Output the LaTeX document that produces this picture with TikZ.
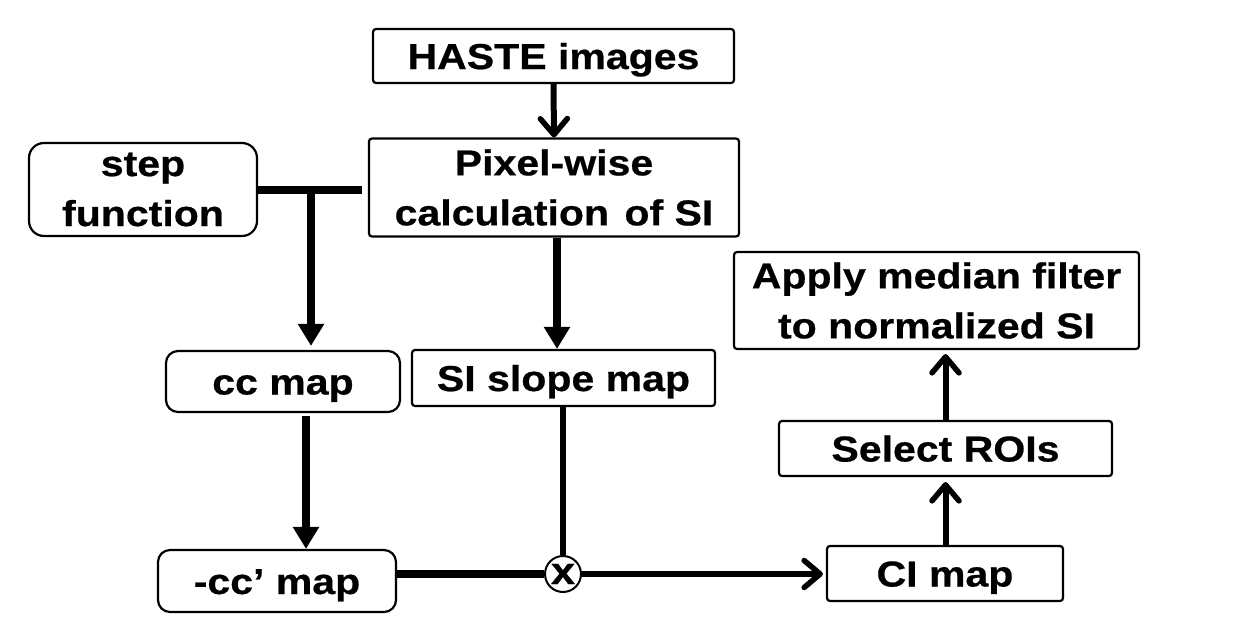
\documentclass[tikz,border=0pt]{standalone}
\usepackage{fontspec}
\setmainfont{Liberation Sans}[FakeStretch=1.14,BoldFeatures={FakeBold=0.6}]
\usetikzlibrary{arrows.meta}
\begin{document}
\begin{tikzpicture}[x=1pt,y=-1pt,
  box/.style={draw, line width=2.2pt, inner sep=0pt, align=center,
    font=\fontsize{36}{50}\selectfont\bfseries, rounded corners=3pt},
  oneline/.style={text height=26pt, text depth=0pt},
  bigline/.style={line width=8pt},
  midline/.style={line width=6pt},
  filltip/.style={-{Triangle[length=22pt,width=25pt]}},
  barbtip/.style={-{Straight Barb[round,length=16pt,width=27pt,line width=5.5pt]}}]
\fill[white] (0,0) rectangle (1240,643);
\useasboundingbox (0,0) rectangle (1240,643);

\node[box, oneline, minimum width=361pt, minimum height=54pt] (haste) at (553.5,56) {HASTE images};
\node[box, minimum width=370pt, minimum height=98pt] (pixel) at (554,187.5) {Pixel-wise\\calculation\hspace{4pt} of SI};
\node[box, rounded corners=15pt, minimum width=228pt, minimum height=93pt] (step) at (143,189.5) {step\\function};
\node[box, oneline, rounded corners=12pt, minimum width=234pt, minimum height=61pt] (cc) at (283,381.5) {cc map};
\node[box, oneline, minimum width=303pt, minimum height=56pt] (slope) at (563.5,378) {SI slope map};
\node[box, minimum width=405pt, minimum height=97pt] (apply) at (936.5,300.5) {Apply median filter\\to normalized SI};
\node[box, oneline, minimum width=333pt, minimum height=55pt] (roi) at (945.5,448.5) {Select ROIs};
\node[box, oneline, minimum width=236pt, minimum height=55pt] (ci) at (945,573.5) {CI map};
\node[box, oneline, rounded corners=12pt, minimum width=238pt, minimum height=62pt] (mcc) at (277,581) {-cc’ map};
\node[circle, draw, line width=2pt, minimum size=36pt, inner sep=0pt,
  font=\fontsize{38}{40}\selectfont\bfseries] (mult) at (563,574) {x};

\coordinate (j) at (311,190);
\coordinate (a2) at (557,0);
\coordinate (a3) at (306,0);

\draw[midline, barbtip] (haste.south) -- (pixel.north);
\draw[bigline, shorten >=6pt] (step.east) -- (step.east -| pixel.west);
\draw[bigline, filltip, shorten >=4pt] (j) -- (j |- cc.north);
\draw[bigline, filltip] (pixel.south -| a2) -- (slope.north -| a2);
\draw[bigline, filltip, shorten <=3pt] (cc.south -| a3) -- (mcc.north -| a3);
\draw[midline] (slope.south -| mult) -- (mult.north);
\draw[bigline] (mcc.east |- mult) -- (mult.west);
\draw[midline, barbtip, shorten >=3pt] (mult.east) -- (ci.west |- mult);
\draw[midline, barbtip, shorten >=5pt] (ci.north -| roi.south) -- (roi.south);
\draw[midline, barbtip, shorten >=4pt] (roi.north) -- (apply.south -| roi.north);
\end{tikzpicture}
\end{document}
